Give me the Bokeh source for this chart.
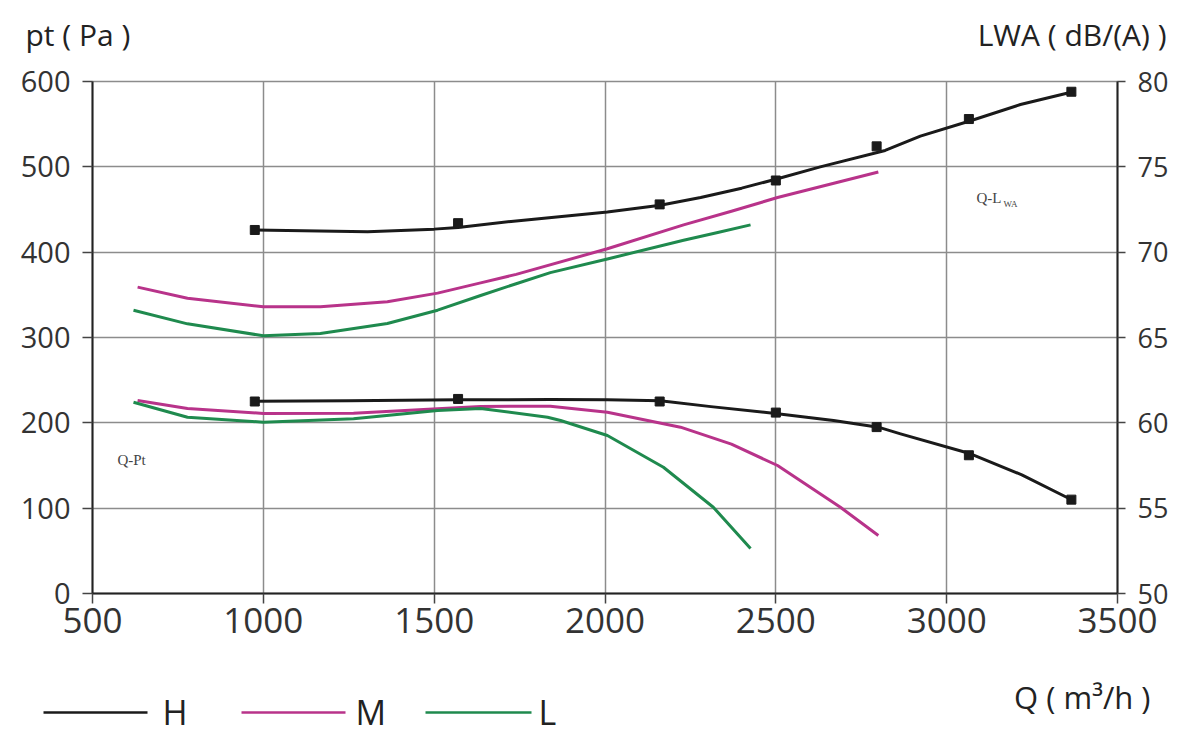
from bokeh.plotting import figure
from bokeh.layouts import column
from bokeh.models import Range1d, LinearAxis, FixedTicker, Label
from bokeh.core.properties import value
from bokeh.embed import file_html
from bokeh.resources import INLINE

# ---------------- data ----------------
# H (high speed): pressure curve and measured points (Pa, left axis)
h_pt_q = [975, 1250, 1570, 1840, 2007, 2162, 2310, 2505, 2669, 2800, 2865, 3070, 3220, 3370]
h_pt_v = [225.4, 226, 227, 227.3, 227, 226, 219, 210.6, 202.7, 194.9, 187, 163.7, 139, 109]
h_pt_mq = [975, 1570, 2160, 2500, 2795, 3065, 3365]
h_pt_mv = [225, 228, 225, 212, 195, 162, 110]
# H noise curve and measured points (dB(A), right axis)
h_lw_q = [975, 1305, 1500, 1570, 1725, 2007, 2162, 2280, 2400, 2505, 2630, 2820, 2923, 3070, 3216, 3370]
h_lw_v = [71.3, 71.2, 71.35, 71.45, 71.8, 72.35, 72.75, 73.2, 73.75, 74.3, 75.0, 75.96, 76.8, 77.7, 78.65, 79.4]
h_lw_mq = [975, 1570, 2160, 2500, 2795, 3065, 3365]
h_lw_mv = [71.3, 71.7, 72.8, 74.2, 76.2, 77.8, 79.4]
# M (medium speed)
m_pt_q = [632, 778, 1000, 1264, 1510, 1636, 1840, 2007, 2221, 2370, 2505, 2689, 2800]
m_pt_v = [226.2, 216.8, 211, 211.3, 216.4, 219.2, 219.5, 212.5, 194.9, 175, 150, 101.1, 68]
m_lw_q = [632, 778, 1000, 1167, 1363, 1510, 1636, 1740, 2007, 2230, 2370, 2505, 2800]
m_lw_v = [67.95, 67.3, 66.8, 66.8, 67.1, 67.6, 68.2, 68.7, 70.2, 71.6, 72.4, 73.2, 74.7]
# L (low speed)
l_pt_q = [620, 778, 1000, 1264, 1510, 1636, 1832, 1870, 2007, 2171, 2317, 2426]
l_pt_v = [224.2, 206.6, 200.7, 204.7, 214.5, 216.8, 206.6, 202.7, 185.2, 148, 101.1, 52.7]
l_lw_q = [620, 778, 1000, 1167, 1363, 1510, 1636, 1740, 1840, 2007, 2230, 2330, 2426]
l_lw_v = [66.6, 65.8, 65.1, 65.23, 65.82, 66.6, 67.46, 68.15, 68.8, 69.6, 70.7, 71.15, 71.6]

x_ticks = [500, 1000, 1500, 2000, 2500, 3000, 3500]
y_ticks = [0, 100, 200, 300, 400, 500, 600]
y2_ticks = [50, 55, 60, 65, 70, 75, 80]

series_names = ["H", "M", "L"]

BLACK = "#1a1a1a"
MAG = "#b8338a"
GRN = "#1f8a4e"
GRID = "#8c8c8c"
TXT = "#333333"
FONT = "Open Sans"

# ---------------- main chart ----------------
p = figure(width=1200, height=613, output_backend="svg", toolbar_location=None,
           x_range=Range1d(500, 3500), y_range=Range1d(0, 600),
           min_border_left=92, min_border_right=83, min_border_top=24, min_border_bottom=77)
p.frame_align = False
p.extra_y_ranges = {"lwa": Range1d(50, 80)}
p.background_fill_color = "white"
p.border_fill_color = "white"
p.outline_line_color = GRID
p.outline_line_width = 1.5

for ax in (p.xaxis[0], p.yaxis[0]):
    ax.axis_line_color = "#222222"
    ax.axis_line_width = 2
    ax.major_tick_line_color = "#444444"
    ax.major_tick_line_width = 1.5
    ax.major_tick_out = 10
    ax.major_tick_in = 0
    ax.minor_tick_line_color = None
    ax.major_label_text_color = TXT
    ax.major_label_text_font = FONT

p.xaxis[0].ticker = FixedTicker(ticks=x_ticks)
p.xaxis[0].major_label_text_font_size = "35px"
p.xaxis[0].major_label_standoff = 4
p.yaxis[0].ticker = FixedTicker(ticks=y_ticks)
p.yaxis[0].major_label_text_font_size = "29px"
p.yaxis[0].major_label_standoff = 12

ax2 = LinearAxis(y_range_name="lwa", ticker=FixedTicker(ticks=y2_ticks))
ax2.axis_line_color = "#222222"
ax2.axis_line_width = 2
ax2.major_tick_line_color = "#444444"
ax2.major_tick_line_width = 1.5
ax2.major_tick_out = 8
ax2.major_tick_in = 0
ax2.minor_tick_line_color = None
ax2.major_label_text_color = TXT
ax2.major_label_text_font = FONT
ax2.major_label_text_font_size = "27px"
ax2.major_label_standoff = 12
p.add_layout(ax2, "right")

p.xgrid.ticker = FixedTicker(ticks=x_ticks)
p.ygrid.ticker = FixedTicker(ticks=y_ticks)
for g in (p.xgrid, p.ygrid):
    g.grid_line_color = GRID
    g.grid_line_width = 1.5

p.line(h_pt_q, h_pt_v, line_color=BLACK, line_width=3, line_join="round")
p.line(h_lw_q, h_lw_v, line_color=BLACK, line_width=3, line_join="round", y_range_name="lwa")
p.scatter(h_pt_mq, h_pt_mv, marker="square", size=9, color=BLACK)
p.scatter(h_lw_mq, h_lw_mv, marker="square", size=9, color=BLACK, y_range_name="lwa")
p.line(m_pt_q, m_pt_v, line_color=MAG, line_width=3, line_join="round")
p.line(m_lw_q, m_lw_v, line_color=MAG, line_width=3, line_join="round", y_range_name="lwa")
p.line(l_pt_q, l_pt_v, line_color=GRN, line_width=3, line_join="round")
p.line(l_lw_q, l_lw_v, line_color=GRN, line_width=3, line_join="round", y_range_name="lwa")

def lab(x, y, t, size, font="Liberation Serif", color="#444444"):
    p.add_layout(Label(x=x, y=y, text=t, text_font=font, text_font_size=size,
                       text_color=color, text_align="left", text_baseline="middle"))

lab(573, 156, "Q-Pt", "15px")
lab(3087, 464, "Q-L", "15px")
lab(3166, 456, "WA", "9px")

# ---------------- top strip: axis titles (pixel coordinates) ----------------
top = figure(width=1200, height=57, output_backend="svg", toolbar_location=None,
             x_range=Range1d(0, 1200), y_range=Range1d(57, 0),
             x_axis_type=None, y_axis_type=None, min_border=0,
             min_border_left=0, min_border_right=0, min_border_top=0, min_border_bottom=0)
top.frame_align = False
top.outline_line_color = None
top.grid.visible = False
top.text(x=[25], y=[34], text=["pt ( Pa )"], text_font=value(FONT),
         text_font_size=value("30px"), text_color="#222222",
         text_align="left", text_baseline="middle")
top.text(x=[1166], y=[34], text=["LWA ( dB/(A) )"], text_font=value(FONT),
         text_font_size=value("30px"), text_color="#222222",
         text_align="right", text_baseline="middle")

# ---------------- bottom strip: legend and x title (pixel coordinates) ----------------
bot = figure(width=1200, height=74, output_backend="svg", toolbar_location=None,
             x_range=Range1d(0, 1200), y_range=Range1d(744, 670),
             x_axis_type=None, y_axis_type=None, min_border=0,
             min_border_left=0, min_border_right=0, min_border_top=0, min_border_bottom=0)
bot.frame_align = False
bot.outline_line_color = None
bot.grid.visible = False
bot.segment(x0=[43, 241, 425], y0=[712, 712, 712], x1=[147, 345, 531], y1=[712, 712, 712],
            line_color=[BLACK, MAG, GRN], line_width=2.5)
bot.text(x=[162, 355, 538], y=[711, 711, 711], text=series_names, text_font=value(FONT),
         text_font_size=value("34px"), text_color="#222222",
         text_align="left", text_baseline="middle")
bot.text(x=[1150], y=[696], text=["Q ( m³/h )"], text_font=value(FONT),
         text_font_size=value("31px"), text_color="#222222",
         text_align="right", text_baseline="middle")

layout = column(top, p, bot, spacing=0)
open("out.html", "w").write(file_html(layout, INLINE))
